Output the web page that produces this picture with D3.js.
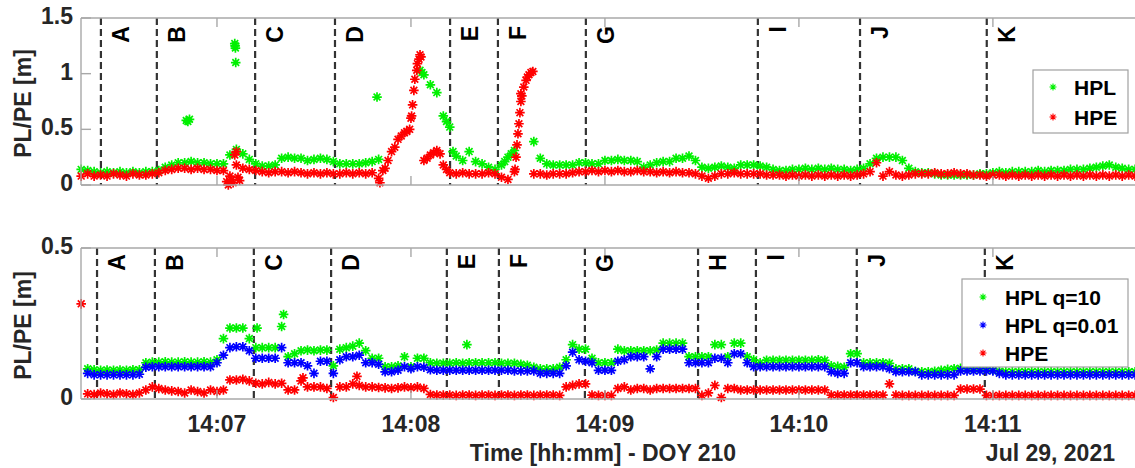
<!DOCTYPE html>
<html lang="en">
<head>
<meta charset="utf-8">
<title>HPL / HPE - DOY 210</title>
<script src="https://d3js.org/d3.v7.min.js"></script>
<style>
  body { margin: 0; background: #fff; }
  text { font-family: "Liberation Sans", Arial, sans-serif; font-weight: bold; }
</style>
</head>
<body>
<script>
// sample times: seconds after 14:06:00, one sample every 2 s
var tSec = d3.range(18, 347, 2);

// ---- top panel ----
var hplTop = [
  0.14,0.13,0.12,0.11,0.12,0.11,0.12,0.11,0.12,0.11,
  0.12,0.12,0.13,0.16,0.18,0.20,0.20,0.21,0.20,0.20,
  0.19,0.19,0.19,0.27,0.32,0.28,0.23,0.19,0.17,0.17,
  0.18,0.24,0.25,0.24,0.24,0.22,0.23,0.24,0.23,0.21,
  0.19,0.19,0.19,0.19,0.20,0.21,0.23,null,null,null,
  null,null,null,0.99,0.90,0.83,0.62,0.52,0.26,0.22,
  0.30,0.21,0.19,0.16,0.14,0.18,0.25,0.31,null,null,
  0.39,0.24,0.19,0.18,0.18,0.18,0.18,0.20,0.20,0.19,
  0.19,0.22,0.22,0.23,0.22,0.22,0.21,0.16,0.18,0.20,
  0.21,0.21,0.24,0.24,0.26,0.22,0.16,0.15,0.16,0.17,
  0.16,0.15,0.18,0.18,0.18,0.17,0.16,0.14,0.13,0.13,
  0.14,0.14,0.15,0.14,0.15,0.14,0.15,0.14,0.14,0.13,
  0.14,0.15,0.19,0.24,0.25,0.25,0.25,0.22,0.15,0.12,
  0.11,0.11,0.10,0.09,0.09,0.09,0.09,0.09,0.09,0.10,
  0.10,0.11,0.12,0.11,0.12,0.12,0.12,0.12,0.13,0.12,
  0.13,0.13,0.13,0.14,0.14,0.14,0.15,0.16,0.17,0.18,
  0.16,0.15,0.14,0.14,0.14
];
var hpeTop = [
  0.08,0.10,0.08,0.09,0.08,0.10,0.09,0.08,0.10,0.09,
  0.09,0.10,0.11,0.13,0.14,0.15,0.15,0.14,0.15,0.14,
  0.14,0.13,0.13,0.08,0.18,0.15,0.14,0.13,0.12,0.11,
  0.12,0.12,0.11,0.12,0.11,0.10,0.11,0.10,0.11,0.10,
  0.10,0.11,0.10,0.11,0.10,0.11,0.06,0.15,0.30,0.41,
  0.47,0.60,1.09,0.22,0.27,0.31,0.18,0.11,0.10,0.11,
  0.10,0.10,0.10,0.11,0.10,0.07,0.05,0.12,0.82,0.97,
  0.10,0.10,0.09,0.10,0.10,0.10,0.11,0.12,0.12,0.13,
  0.12,0.13,0.12,0.13,0.12,0.12,0.13,0.12,0.12,0.11,
  0.12,0.11,0.12,0.11,0.11,0.10,0.08,0.06,0.08,0.10,
  0.10,0.11,0.10,0.10,0.10,0.10,0.09,0.09,0.09,0.08,
  0.09,0.08,0.09,0.08,0.09,0.08,0.09,0.08,0.09,0.08,
  0.09,0.10,0.12,0.20,0.08,0.12,0.09,0.08,0.09,0.10,
  0.10,0.10,0.11,0.10,0.10,0.11,0.10,0.10,0.09,0.09,
  0.08,0.09,0.09,0.08,0.09,0.08,0.09,0.08,0.09,0.08,
  0.09,0.08,0.09,0.08,0.09,0.08,0.09,0.08,0.09,0.08,
  0.09,0.08,0.09,0.08,0.09
];
// extra samples (outliers and fast transitions)
var hplTopExtraT = [50.5, 51, 51.5, 65.5, 65.6, 65.7, 65.8, 109.5, 122.8, 123.4, 131, 133, 149, 151];
var hplTopExtraV = [0.58, 0.57, 0.59, 1.27, 1.25, 1.23, 1.10, 0.79, 1.03, 1.01, 0.57, 0.30, 0.21, 0.28];
var hpeTopExtraT = [63, 63.5, 64.5, 65, 65.5, 66, 66.5, 67,
  110.4, 111.3, 112.9, 115, 117, 118.7, 119.6, 120.2, 120.5, 120.9, 121.2, 121.8, 122.5, 122.8, 123.1,
  125, 127, 129, 131,
  152.2, 152.5, 152.8, 153.1, 153.4, 153.7, 154, 154.3, 154.9, 155.6, 156.5, 157.1, 157.7];
var hpeTopExtraV = [0.03, 0.00, 0.05, 0.02, 0.27, 0.30, 0.07, 0.04,
  0.02, 0.13, 0.22, 0.34, 0.44, 0.48, 0.50, 0.62, 0.72, 0.85, 0.95, 1.03, 1.13, 1.17, 1.15,
  0.24, 0.29, 0.28, 0.14,
  0.14, 0.25, 0.36, 0.46, 0.55, 0.65, 0.75, 0.80, 0.88, 0.94, 0.99, 1.01, 1.02];

// ---- bottom panel ----
var hplQ10 = [
  null,0.100,0.097,0.095,0.096,0.095,0.096,0.095,0.097,0.097,
  0.120,0.122,0.122,0.123,0.122,0.122,0.123,0.122,0.122,0.123,
  0.122,0.130,0.200,0.235,0.235,0.235,0.200,0.170,0.170,0.170,
  0.170,0.240,0.140,0.150,0.160,0.162,0.160,0.162,0.162,0.110,
  0.165,0.170,0.175,0.185,0.160,0.135,0.135,0.107,0.107,0.110,
  0.140,0.107,0.135,0.135,0.120,0.118,0.118,0.118,0.120,0.118,
  0.120,0.120,0.120,0.120,0.120,0.118,0.118,0.118,0.115,0.112,
  0.105,0.100,0.100,0.100,0.105,0.130,0.180,0.165,0.165,0.135,
  0.120,0.120,0.120,0.165,0.160,0.160,0.160,0.160,0.160,0.162,
  0.185,0.185,0.185,0.185,0.140,0.140,0.140,0.140,0.180,0.180,
  0.140,0.185,0.185,0.140,0.130,0.120,0.128,0.128,0.128,0.128,
  0.128,0.128,0.128,0.128,0.130,0.128,0.110,0.108,0.105,0.150,
  0.150,0.120,0.120,0.120,0.120,0.118,0.100,0.100,0.100,0.092,
  0.090,0.090,0.092,0.095,0.098,0.100,0.102,0.100,0.100,0.100,
  0.100,0.095,0.092,0.090,0.090,0.090,0.090,0.090,0.090,0.090,
  0.090,0.090,0.090,0.090,0.090,0.090,0.090,0.090,0.090,0.090,
  0.090,0.090,0.090,0.090,0.090
];
var hplQ001 = [
  null,0.085,0.080,0.080,0.080,0.080,0.080,0.080,0.080,0.082,
  0.105,0.107,0.107,0.107,0.107,0.107,0.107,0.107,0.107,0.107,
  0.107,0.120,0.145,0.170,0.173,0.173,0.160,0.135,0.135,0.135,
  0.135,0.170,0.120,0.120,0.120,0.110,0.085,0.125,0.125,0.085,
  0.130,0.140,0.140,0.145,0.120,0.120,0.115,0.090,0.090,0.095,
  0.107,0.100,0.107,0.105,0.097,0.095,0.095,0.095,0.095,0.095,
  0.095,0.095,0.095,0.095,0.095,0.095,0.095,0.093,0.093,0.093,
  0.093,0.085,0.085,0.085,0.085,0.110,0.155,0.130,0.125,0.120,
  0.095,0.095,0.095,0.125,0.130,0.140,0.140,0.140,0.100,0.140,
  0.165,0.165,0.165,0.165,0.120,0.120,0.120,0.120,0.135,0.135,
  0.120,0.150,0.150,0.120,0.107,0.107,0.107,0.107,0.107,0.107,
  0.107,0.107,0.107,0.107,0.107,0.107,0.090,0.085,0.085,0.120,
  0.120,0.107,0.107,0.107,0.107,0.100,0.090,0.090,0.090,0.090,
  0.080,0.080,0.080,0.080,0.080,0.080,0.093,0.093,0.093,0.093,
  0.093,0.093,0.085,0.080,0.080,0.080,0.080,0.080,0.080,0.080,
  0.080,0.080,0.080,0.080,0.080,0.080,0.080,0.080,0.080,0.080,
  0.080,0.080,0.080,0.080,0.080
];
var hpeBot = [
  0.315,0.017,0.015,0.020,0.017,0.015,0.020,0.017,0.015,0.020,
  0.030,0.040,0.035,0.030,0.027,0.025,0.020,0.030,0.025,0.020,
  0.030,0.025,0.030,0.063,0.063,0.065,0.060,0.052,0.050,0.055,
  0.050,0.052,0.030,0.030,0.060,0.040,0.040,0.040,0.035,0.005,
  0.040,0.040,0.050,0.045,0.040,0.040,0.038,0.037,0.035,0.037,
  0.040,0.037,0.040,0.035,0.015,0.013,0.013,0.013,0.012,0.013,
  0.013,0.012,0.013,0.013,0.012,0.013,0.013,0.012,0.013,0.013,
  0.012,0.013,0.013,0.013,0.012,0.040,0.045,0.050,0.050,0.013,
  0.012,0.012,0.012,0.035,0.040,0.030,0.035,0.035,0.030,0.035,
  0.035,0.035,0.035,0.035,0.035,0.035,0.012,0.020,0.045,0.005,
  0.035,0.035,0.030,0.030,0.030,0.030,0.030,0.030,0.030,0.030,
  0.030,0.030,0.030,0.030,0.030,0.030,0.013,0.013,0.013,0.013,
  0.013,0.013,0.013,0.013,0.013,0.050,0.013,0.012,0.012,0.012,
  0.012,0.012,0.012,0.012,0.012,0.012,0.033,0.033,0.033,0.033,
  0.012,0.012,0.012,0.012,0.012,0.012,0.012,0.012,0.012,0.012,
  0.012,0.012,0.012,0.012,0.012,0.012,0.012,0.012,0.012,0.012,
  0.012,0.012,0.012,0.012,0.012
];
var hplQ10ExtraT = [72.4, 80.6, 137.3];
var hplQ10ExtraV = [0.235, 0.28, 0.18];
var hpeBotExtraT = [86.6, 103.3];
var hpeBotExtraV = [0.07, 0.075];

// event markers
var eventNamesTop = ["A","B","C","D","E","F","G","I","J","K"];
var eventTimesTop = [24.1, 41.4, 71.8, 96.5, 132.1, 146.9, 174.1, 227.3, 258.9, 298.1];
var eventNamesBot = ["A","B","C","D","E","F","G","H","I","J","K"];
var eventTimesBot = [22.9, 40.8, 71.4, 95.3, 131.1, 147.2, 173.8, 208.8, 226.7, 257.9, 297.5];

var xTickSec = [60, 120, 180, 240, 300];

var W = 1135, H = 468;
var t0 = new Date(2021, 6, 29, 14, 6, 0);
function toDate(s) { return new Date(t0.getTime() + s * 1000); }

var x = d3.scaleTime()
    .domain([toDate(17.94), toDate(345.5)])
    .range([81, 1140]);

var svg = d3.select("body").append("svg")
    .attr("width", W).attr("height", H);

function star(r) {
  var d = r * 0.7071;
  return "M" + (-r) + ",0H" + r + "M0," + (-r) + "V" + r +
         "M" + (-d) + "," + (-d) + "L" + d + "," + d +
         "M" + (-d) + "," + d + "L" + d + "," + (-d);
}

function pts(times, vals) {
  var out = [];
  times.forEach(function(t, i) { if (vals[i] != null) out.push([t, vals[i]]); });
  return out;
}

var axisColor = "#a8a8a8", labelColor = "#262626";

function panel(cfg) {
  var y = d3.scaleLinear().domain([0, cfg.max]).range([cfg.bottom, cfg.top]);
  var g = svg.append("g");

  // event lines
  cfg.events.forEach(function(t) {
    var xx = x(toDate(t));
    g.append("line")
      .attr("x1", xx).attr("x2", xx).attr("y1", cfg.top).attr("y2", cfg.bottom)
      .attr("stroke", "#333").attr("stroke-width", 2.2)
      .attr("stroke-dasharray", "7,4");
  });

  // data
  cfg.series.forEach(function(s) {
    g.append("g").selectAll("path")
      .data(s.data).enter().append("path")
      .attr("d", star(4.8))
      .attr("transform", function(d) { return "translate(" + x(toDate(d[0])) + "," + y(d[1]) + ")"; })
      .attr("stroke", s.color).attr("stroke-width", 1.7).attr("fill", "none");
  });

  // box
  g.append("line").attr("x1", 81).attr("x2", 1140).attr("y1", cfg.top).attr("y2", cfg.top)
    .attr("stroke", axisColor).attr("stroke-width", 1.4);
  g.append("line").attr("x1", 81).attr("x2", 1140).attr("y1", cfg.bottom).attr("y2", cfg.bottom)
    .attr("stroke", axisColor).attr("stroke-width", 1.4);
  g.append("line").attr("x1", 81).attr("x2", 81).attr("y1", cfg.top).attr("y2", cfg.bottom)
    .attr("stroke", axisColor).attr("stroke-width", 1.4);

  // x ticks (inside, top and bottom)
  xTickSec.forEach(function(t) {
    var xx = x(toDate(t));
    g.append("line").attr("x1", xx).attr("x2", xx).attr("y1", cfg.bottom).attr("y2", cfg.bottom - 9)
      .attr("stroke", axisColor).attr("stroke-width", 1.4);
    g.append("line").attr("x1", xx).attr("x2", xx).attr("y1", cfg.top).attr("y2", cfg.top + 9)
      .attr("stroke", axisColor).attr("stroke-width", 1.4);
  });

  // y ticks and labels
  cfg.yTicks.forEach(function(v) {
    g.append("line").attr("x1", 81).attr("x2", 91).attr("y1", y(v)).attr("y2", y(v))
      .attr("stroke", axisColor).attr("stroke-width", 1.4);
    g.append("text").attr("x", 73).attr("y", y(v) - 2).attr("dy", "0.35em")
      .attr("text-anchor", "end").attr("font-size", 23).attr("fill", labelColor)
      .text(String(v));
  });

  g.append("text")
    .attr("transform", "translate(31," + ((cfg.top + cfg.bottom) / 2 + 2) + ") rotate(-90)")
    .attr("text-anchor", "middle").attr("font-size", 23).attr("fill", labelColor)
    .text("PL/PE [m]");

  // event labels
  cfg.events.forEach(function(t, i) {
    var xx = x(toDate(t));
    g.append("text")
      .attr("transform", "translate(" + (xx + 28) + "," + (cfg.top + cfg.labelDy) + ") rotate(-90)")
      .attr("text-anchor", "end").attr("font-size", 23).attr("fill", "#000")
      .text(cfg.names[i]);
  });

  // legend
  var lg = g.append("g");
  lg.append("rect")
    .attr("x", cfg.legend.x).attr("y", cfg.legend.y)
    .attr("width", cfg.legend.w).attr("height", cfg.legend.h)
    .attr("fill", "#fff").attr("stroke", "#a0a0a0").attr("stroke-width", 1.2);
  cfg.series.forEach(function(s, i) {
    var yy = cfg.legend.y + cfg.legend.first + i * cfg.legend.step;
    lg.append("path").attr("d", star(3.5))
      .attr("transform", "translate(" + (cfg.legend.x + cfg.legend.mx) + "," + yy + ")")
      .attr("stroke", s.color).attr("stroke-width", 1.1).attr("fill", "none");
    lg.append("text").attr("x", cfg.legend.x + cfg.legend.tx).attr("y", yy).attr("dy", "0.36em")
      .attr("font-size", 21).attr("fill", "#000").text(s.name);
  });

  return y;
}

panel({
  top: 18, bottom: 185, max: 1.5, yTicks: [0, 0.5, 1, 1.5], labelDy: 8,
  events: eventTimesTop, names: eventNamesTop,
  series: [
    { name: "HPL", color: "#00f000", data: pts(tSec, hplTop).concat(pts(hplTopExtraT, hplTopExtraV)) },
    { name: "HPE", color: "#ff0000", data: pts(tSec, hpeTop).concat(pts(hpeTopExtraT, hpeTopExtraV)) }
  ],
  legend: { x: 1033, y: 70, w: 95, h: 63, first: 17, step: 30, mx: 20, tx: 41 }
});

panel({
  top: 248, bottom: 399, max: 0.5, yTicks: [0, 0.5], labelDy: 6,
  events: eventTimesBot, names: eventNamesBot,
  series: [
    { name: "HPL q=10", color: "#00f000", data: pts(tSec, hplQ10).concat(pts(hplQ10ExtraT, hplQ10ExtraV)) },
    { name: "HPL q=0.01", color: "#0000ff", data: pts(tSec, hplQ001) },
    { name: "HPE", color: "#ff0000", data: pts(tSec, hpeBot).concat(pts(hpeBotExtraT, hpeBotExtraV)) }
  ],
  legend: { x: 962, y: 279, w: 166, h: 88, first: 18, step: 28, mx: 21, tx: 43 }
});

// x tick labels (bottom panel only)
xTickSec.forEach(function(t) {
  svg.append("text").attr("x", x(toDate(t))).attr("y", 432)
    .attr("text-anchor", "middle").attr("font-size", 23).attr("fill", labelColor)
    .text(d3.timeFormat("%H:%M")(toDate(t)));
});
svg.append("text").attr("x", 603).attr("y", 461)
  .attr("text-anchor", "middle").attr("font-size", 23).attr("fill", labelColor)
  .text("Time [hh:mm] - DOY 210");
svg.append("text").attr("x", 1115).attr("y", 461)
  .attr("text-anchor", "end").attr("font-size", 23).attr("fill", labelColor)
  .text(d3.timeFormat("%b %-d, %Y")(t0));
</script>
</body>
</html>
